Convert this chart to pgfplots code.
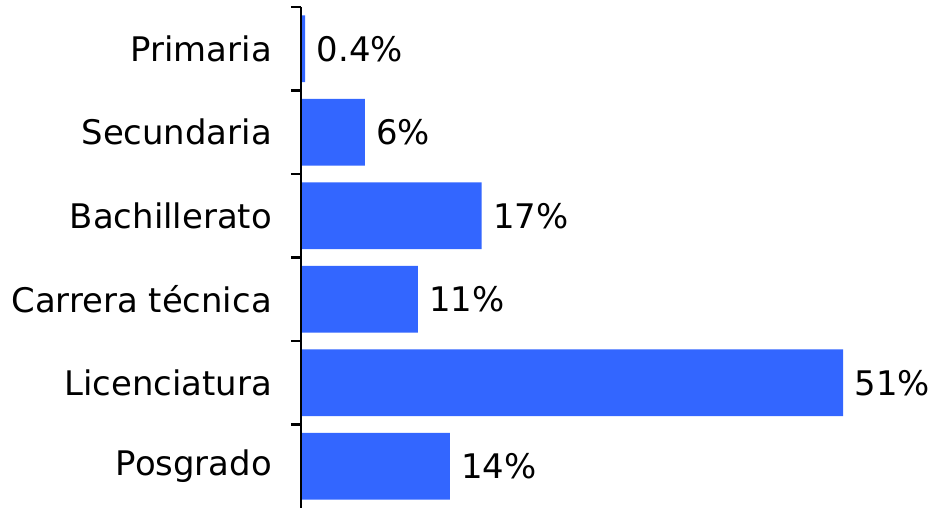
\documentclass[border=0pt]{standalone}
\usepackage{fontspec}
\setmainfont{DejaVu Sans}
\usepackage{pgfplots}
\pgfplotsset{compat=1.18}
\definecolor{barblue}{HTML}{3366FF}
\begin{document}
\fontsize{34}{40}\selectfont
\begin{tikzpicture}
\begin{axis}[name=ax, scale only axis, width=631bp, height=501bp,
  axis on top,
  xbar, xmin=0, xmax=59.36, ymin=-0.5, ymax=5.5, y dir=reverse,
  hide x axis, axis y line*=left,
  ytick={0,...,5},
  yticklabels={Primaria,Secundaria,Bachillerato,Carrera técnica,Licenciatura,Posgrado},
  major tick length=0pt,
  minor ytick={-0.5,0.5,...,4.5}, minor tick length=10bp, tick align=outside,
  tick style={line width=2.5bp, black},
  minor tick style={line width=2.5bp, black},
  y axis line style={line width=2.5bp, black},
  yticklabel style={font=\fontsize{34}{40}\selectfont, inner sep=0pt, xshift=-29bp},
  bar width=0.8,
  point meta=x,
  nodes near coords={\pgfmathprintnumber[assume math mode=true]{\pgfplotspointmeta}\%},
  nodes near coords style={font=\fontsize{34}{40}\selectfont, black},
]
\addplot[fill=barblue, draw=none] coordinates {(0.4,0) (6,1) (17,2) (11,3) (51,4) (14,5)};
\end{axis}
\pgfresetboundingbox
\path ([xshift=-301bp]ax.south west) rectangle ([yshift=7bp]ax.north east);
\end{tikzpicture}
\end{document}
